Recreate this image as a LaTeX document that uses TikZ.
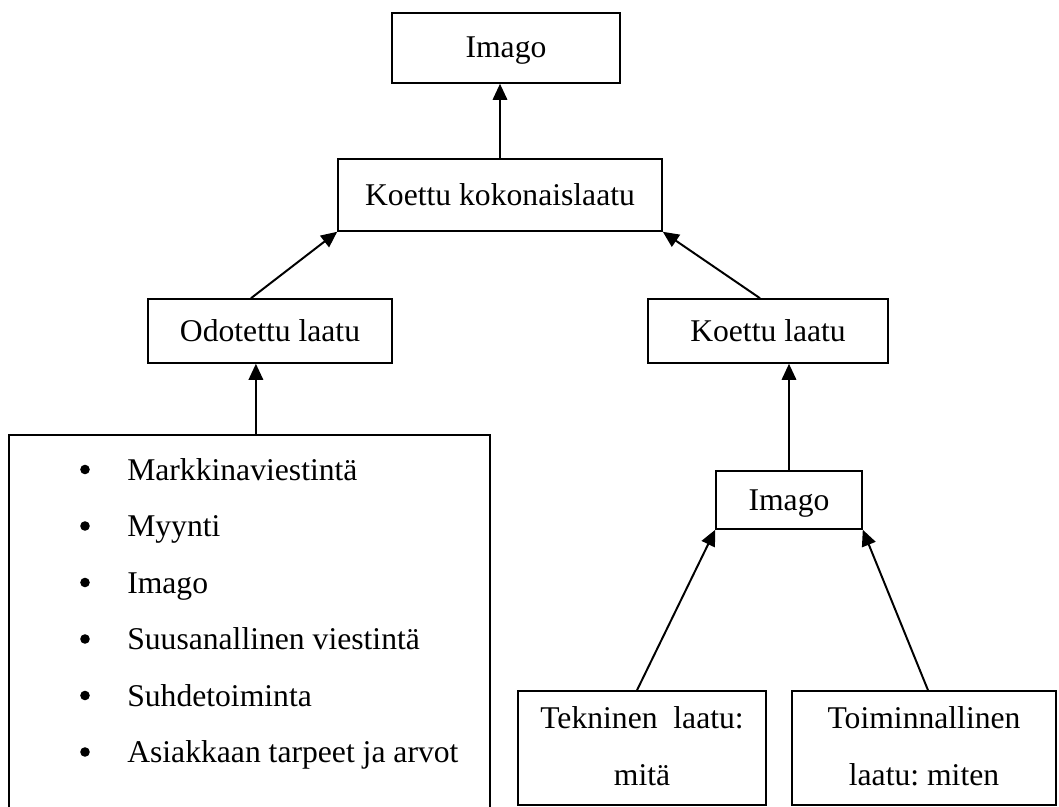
\documentclass[tikz,border=0pt]{standalone}
\usepackage{fontspec}
\setmainfont{Liberation Serif}
\usetikzlibrary{arrows.meta}
\frenchspacing

\begin{document}
\begin{tikzpicture}[x=0.025cm, y=-0.025cm,
    laatikko/.style={rectangle, draw, line width=1.1pt, inner sep=0pt,
      font=\fontsize{22.5}{40.4}\selectfont, text height=0.6cm, text depth=0.1cm},
    kaksirivi/.style={laatikko, align=center, text height=1.9cm, text depth=0.05cm},
    nuoli/.style={-{Triangle[length=0.4cm, width=0.36cm]}, line width=1.4pt},
    rivi/.style={anchor=base west, inner sep=0pt, font=\fontsize{22.5}{27}\selectfont},
    pallo/.style={circle, fill, inner sep=0pt, minimum size=0.24cm}]
    \useasboundingbox (0,0) rectangle (1059,807);

    \node[laatikko, minimum width=5.7cm, minimum height=1.75cm] (imago) at (506,48) {Imago};
    \node[laatikko, minimum width=8.1cm, minimum height=1.8cm] (kok) at (500,195) {Koettu kokonaislaatu};
    \node[laatikko, minimum width=6.1cm, minimum height=1.6cm] (odo) at (270,331) {Odotettu laatu};
    \node[laatikko, minimum width=6.0cm, minimum height=1.6cm] (koe) at (768,331) {Koettu laatu};
    \node[laatikko, minimum width=12.025cm, minimum height=9.5cm] (lista) at (249.5,625) {};
    \node[laatikko, minimum width=3.65cm, minimum height=1.45cm] (pieni) at (789,500) {Imago};
    \node[kaksirivi, minimum width=6.2cm, minimum height=2.85cm] (tek) at (642,748) {Tekninen\hspace{0.5em}laatu:\\mitä};
    \node[kaksirivi, minimum width=6.6cm, minimum height=2.85cm] (toi) at (924,748) {Toiminnallinen\\laatu: miten};

    % lista
    \foreach \teksti [count=\i] in {Markkinaviestintä, Myynti, Imago, Suusanallinen viestintä, Suhdetoiminta, Asiakkaan tarpeet ja arvot} {
        \node[pallo] (pallo\i) at (85, 413+56.5*\i) {};
        \node[rivi] (rivi\i) at (127, 423.5+56.5*\i) {\teksti};
    }

    \coordinate (lk) at ([xshift=0.16cm]lista.north);
    \draw[nuoli] (kok.north) -- (kok.north |- imago.south);
    \draw[nuoli] ([xshift=-0.475cm]odo.north) -- (kok.south west);
    \draw[nuoli] ([xshift=-0.2cm]koe.north) -- (kok.south east);
    \draw[nuoli] (lk) -- (lk |- odo.south);
    \draw[nuoli] (pieni.north) -- (pieni.north |- koe.south);
    \draw[nuoli] ([xshift=-0.125cm]tek.north) -- (pieni.south west);
    \draw[nuoli] ([xshift=0.1cm]toi.north) -- (pieni.south east);
\end{tikzpicture}
\end{document}
